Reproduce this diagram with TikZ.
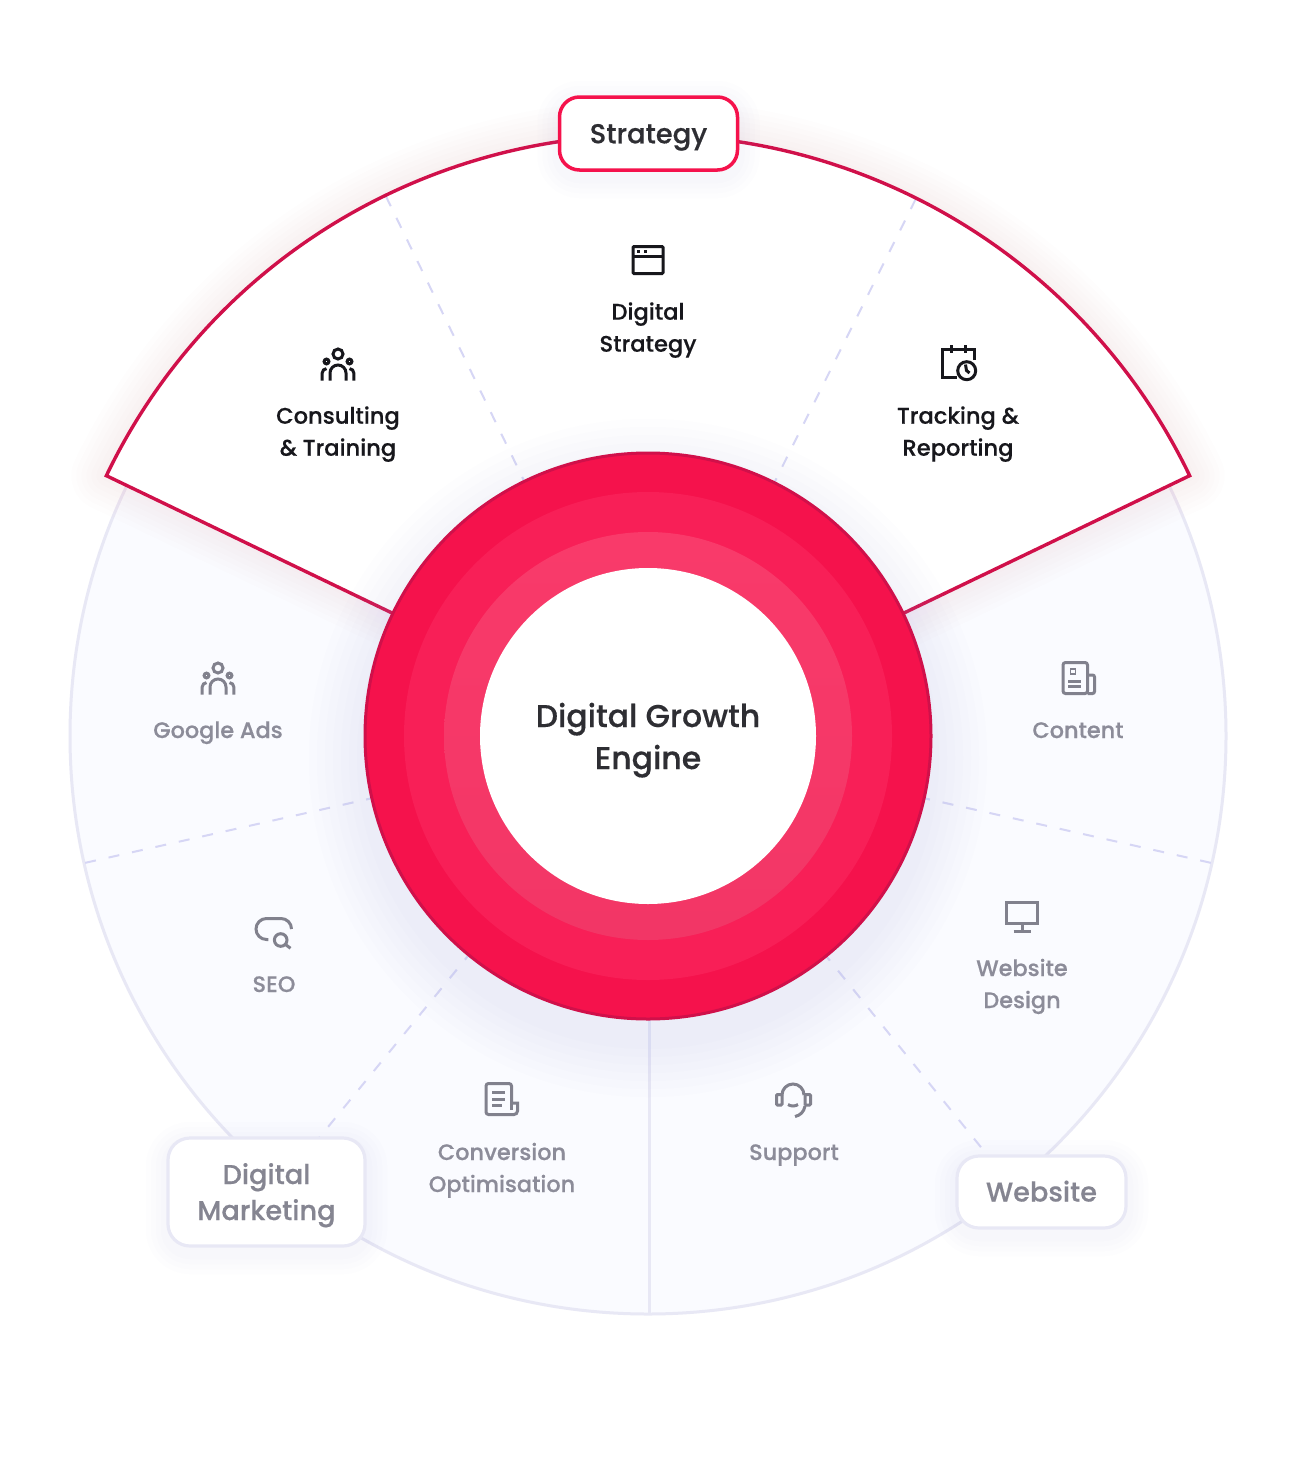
\documentclass[tikz,border=0pt]{standalone}
\usepackage{fontspec}
\setmainfont{Poppins}[UprightFont=* Medium, UprightFeatures={FakeBold=0.4}]
\usepackage{xcolor}
\definecolor{crimson}{HTML}{F5124C}
\definecolor{crimsonrim}{HTML}{D0104A}
\definecolor{ringmid}{HTML}{F81F57}
\definecolor{ringlight}{HTML}{F93A6A}
\definecolor{ringlow}{HTML}{F23666}
\definecolor{paledisc}{HTML}{FAFBFF}
\definecolor{lilacline}{HTML}{E8E8F5}
\definecolor{spokeline}{HTML}{D6D6F5}
\definecolor{mutedtext}{HTML}{8C8C99}
\definecolor{inktext}{HTML}{17171C}
\definecolor{glowblue}{HTML}{AEB4F2}
\definecolor{glowgrey}{HTML}{9A9AD0}
\usetikzlibrary{calc}
\tikzset{
  softglow/.style={
    preaction={draw=#1, draw opacity=.015, line width=44, transform canvas={yshift=-6pt}},
    preaction={draw=#1, draw opacity=.015, line width=34, transform canvas={yshift=-6pt}},
    preaction={draw=#1, draw opacity=.015, line width=24, transform canvas={yshift=-6pt}},
    preaction={draw=#1, draw opacity=.015, line width=14, transform canvas={yshift=-6pt}}},
  pics/people/.style={code={
    \draw (0,11) circle[radius=5];
    \draw (-11.5,3.5) circle[radius=2.4];
    \draw (11.5,3.5) circle[radius=2.4];
    \draw (-8,-15.5) -- (-8,-8) arc[start angle=180,end angle=0,radius=8] -- (8,-15.5);
    \draw (-15.8,-15.5) -- (-15.8,-8) .. controls (-15.8,-5.5) and (-14,-4) .. (-11.5,-3.6);
    \draw (15.8,-15.5) -- (15.8,-8) .. controls (15.8,-5.5) and (14,-4) .. (11.5,-3.6);}},
  pics/browser/.style={code={
    \draw[rounded corners=1] (-15,13.5) rectangle (15,-13.5);
    \draw (-15,4) -- (15,4);
    \fill (-11.5,9.8) rectangle (-8.5,7.3);
    \fill (-4.5,9.8) rectangle (-1.5,7.3);}},
  pics/planner/.style={code={
    \draw (16,4) -- (16,14.7) -- (-16,14.7) -- (-16,-13.7) -- (-1,-13.7);
    \draw (-6.3,19) -- (-6.3,11);
    \draw (7,19) -- (7,11);
    \draw (8.7,-6.7) circle[radius=9];
    \draw (7.5,-0.5) -- (8.5,-6.5) -- (11.5,-9);}},
  pics/paper/.style={code={
    \draw[rounded corners=2.5] (-15,15.5) rectangle (9.5,-15.5);
    \draw[rounded corners=2] (9.5,3) -- (16.5,3) -- (16.5,-15.5) -- (9.5,-15.5);
    \draw[line width=1.8] (-7.5,9) rectangle (-2.5,4);
    \draw (-9.7,-3) -- (3,-3);
    \draw (-9.7,-8) -- (3,-8);}},
  pics/searchbubble/.style={code={
    \draw (-5.7,-6.5) -- (-7.5,-6.5) arc[start angle=270,end angle=90,radius=10.5]
      -- (7,14.5) arc[start angle=90,end angle=0,radius=10.5];
    \draw (6.7,-7) circle[radius=6.3];
    \draw (11.5,-11.5) -- (16.5,-15.3);}},
  pics/sheet/.style={code={
    \draw (9.5,-4) -- (9.5,13) arc[start angle=0,end angle=90,radius=2.5] -- (-13.5,15.5)
      arc[start angle=90,end angle=180,radius=2.5] -- (-16,-13)
      arc[start angle=180,end angle=270,radius=2.5] -- (11,-15.5);
    \draw (9.5,-4) -- (15.5,-4) -- (15.5,-12) arc[start angle=0,end angle=-90,radius=3.5] -- (11,-15.5);
    \draw (9.5,-4) -- (9.5,-11);
    \draw (-10,6.5) -- (3,6.5);
    \draw (-10,0) -- (3,0);
    \draw (-10,-6.5) -- (0,-6.5);}},
  pics/headset/.style={code={
    \draw (-11,5) arc[start angle=180,end angle=0,radius=11];
    \draw[rounded corners=1] (-16.5,5.5) rectangle (-11,-5);
    \draw[rounded corners=1] (12,5.5) rectangle (17.5,-5);
    \draw (12,-6) .. controls (11,-12) and (7,-15.5) .. (2,-16.5);
    \draw (-5,-4.5) .. controls (-2,-6.5) and (2,-6.5) .. (5,-4.5);}},
  pics/monitor/.style={code={
    \draw (-15.5,14) rectangle (15,-7.5);
    \draw (0,-8) -- (0,-14.5);
    \draw (-8.5,-15) -- (8.5,-15);}}
}
\begin{document}
\begin{tikzpicture}[x=1pt, y=1pt,
    every node/.style={inner sep=0pt},
    ring/.style={circle, minimum size=#1},
    inkicon/.style={color=inktext, line width=3},
    mutedicon/.style={color=mutedtext!92!black, line width=3},
    activelabel/.style={font=\fontsize{22.6}{32}\selectfont, text=inktext, align=center,
                        text height=17, text depth=6},
    mutedlabel/.style={font=\fontsize{22.4}{32}\selectfont, text=mutedtext, align=center,
                       text height=17, text depth=6},
    tagbox/.style={draw=lilacline, line width=3.2, fill=white, rounded corners=22,
                   softglow=glowgrey, align=center, text=mutedtext!95!black,
                   font=\fontsize{27.2}{36}\selectfont, text height=26, text depth=7},
    spoke/.style={draw=spokeline, line width=2, dash pattern=on 11pt off 13pt}]
  \useasboundingbox (0,-1472) rectangle (1297,0);
  \fill[white] (0,-1472) rectangle (1297,0);
  \coordinate (hub) at (648,-736);
  % back disc
  \draw[draw=lilacline, fill=paledisc, line width=3] (hub) circle[radius=578];
  \foreach \a/\n in {192.7/a,230.7/b,309/c,347.3/d}{
    \coordinate (core\n) at ($(hub)+(\a:283)$);
    \coordinate (rim\n) at ($(hub)+(\a:577)$);
    \draw[spoke] (rim\n) -- (core\n);
  }
  \coordinate (corebase) at (649.5,-1019);
  \coordinate (rimbase) at (649.5,-1313);
  \draw[draw=lilacline, line width=3] (corebase) -- (rimbase);
  % open sector
  \foreach \w in {70,60,...,10}{
    \draw[draw=crimson, draw opacity=.007, line width=\w, line join=round, yshift=-10]
      (hub) ++(154.33:601) arc[start angle=154.33,end angle=25.67,radius=601] -- (hub) -- cycle;
  }
  \fill[white] (hub) ++(154.33:601) arc[start angle=154.33,end angle=25.67,radius=601] -- (hub) -- cycle;
  \foreach \a/\n in {115.9/e,63.5/f}{
    \coordinate (core\n) at ($(hub)+(\a:283)$);
    \coordinate (rim\n) at ($(hub)+(\a:600)$);
    \draw[spoke] (rim\n) -- (core\n);
  }
  \draw[draw=crimsonrim, line width=3.4, line join=miter]
    (hub) ++(154.33:601) arc[start angle=154.33,end angle=25.67,radius=601] -- (hub) -- cycle;
  % core glow and rings
  \foreach \g in {56,48,...,8}{
    \fill[glowblue, opacity=.022] ($(hub)+(0,-22)$) circle[radius=283+\g];
  }
  \node[ring=566, fill=crimson, draw=crimsonrim, line width=3] (coreouter) at (hub) {};
  \node[ring=488, fill=ringmid] (coremid) at (hub) {};
  \node[ring=408, top color=ringlight, bottom color=ringlow] (coreinner) at (hub) {};
  \node[ring=336, fill=white, align=center, text=inktext!90!white, text height=70, text depth=4,
        font=\fontsize{31.5}{42}\selectfont] (corelabel) at (hub) {Digital Growth\\Engine};
  % tags
  \node[draw=crimson, line width=3.5, fill=white, rounded corners=20, softglow=glowgrey,
        minimum width=178, minimum height=73, text=inktext!90!white,
        text height=26, text depth=6.4,
        font=\fontsize{27.4}{34}\selectfont] (strategy) at (648.5,-133.5) {Strategy};
  \node[tagbox, minimum width=197, minimum height=108, text height=60, text depth=4] (marketing) at (266.5,-1192) {Digital\\Marketing};
  \node[tagbox, minimum width=169, minimum height=72] (website) at (1041.5,-1192) {Website};
  % active group
  \pic[inkicon] (iconconsult) at (338,-365) {people};
  \node[activelabel] (consulting) at (338,-450.2) {Consulting\\\&~Training};
  \pic[inkicon] (icondigital) at (648,-260) {browser};
  \node[activelabel] (digital) at (648,-346.2) {Digital\\Strategy};
  \pic[inkicon] (icontrack) at (958,-364) {planner};
  \node[activelabel] (tracking) at (958,-450.2) {Tracking \&\\Reporting};
  % muted group
  \pic[mutedicon] (iconads) at (218,-679) {people};
  \node[mutedlabel] (ads) at (218,-732.5) {Google Ads};
  \pic[mutedicon] (iconcontent) at (1078,-678) {paper};
  \node[mutedlabel] (content) at (1078,-732.5) {Content};
  \pic[mutedicon] (iconseo) at (274,-933) {searchbubble};
  \node[mutedlabel] (seo) at (274,-986.5) {SEO};
  \pic[mutedicon] (icondesign) at (1022,-916) {monitor};
  \node[mutedlabel] (design) at (1022,-1002.5) {Website\\Design};
  \pic[mutedicon] (iconconv) at (502,-1099) {sheet};
  \node[mutedlabel] (conversion) at (502,-1186.5) {Conversion\\Optimisation};
  \pic[mutedicon] (iconsupport) at (793,-1100) {headset};
  \node[mutedlabel] (support) at (794,-1154.5) {Support};
\end{tikzpicture}
\end{document}
